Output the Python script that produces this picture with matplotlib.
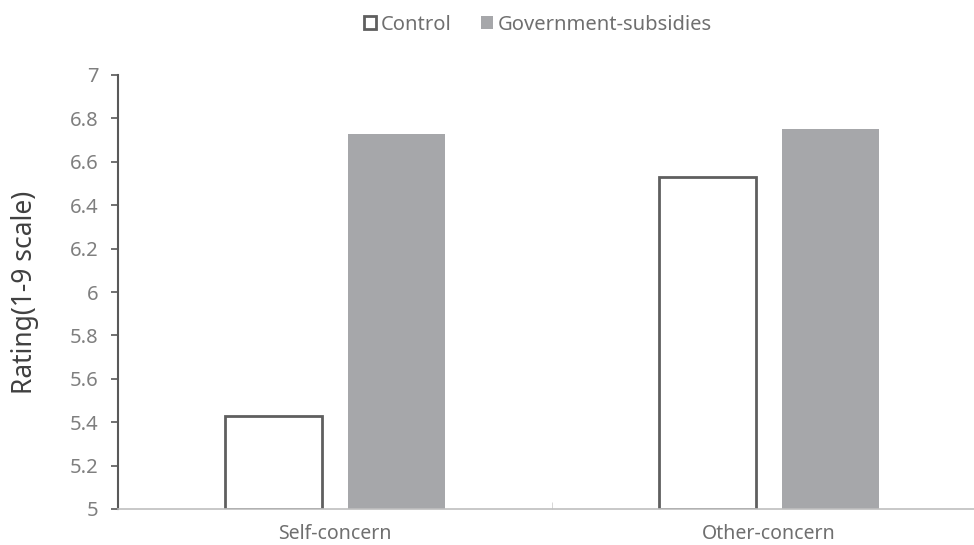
import matplotlib.pyplot as plt
import numpy as np

plt.rcParams['font.family'] = ['Noto Sans', 'Noto Sans CJK SC', 'DejaVu Sans']

categories = ["Self-concern", "Other-concern"]
series = ["Control", "Government-subsidies"]
control = [5.43, 6.53]
subsidies = [6.73, 6.75]
yticks = [5, 5.2, 5.4, 5.6, 5.8, 6, 6.2, 6.4, 6.6, 6.8, 7]
ytick_labels = ["5", "5.2", "5.4", "5.6", "5.8", "6", "6.2", "6.4", "6.6", "6.8", "7"]

fig = plt.figure(figsize=(9.74, 5.45), dpi=100)
ax = fig.add_axes([118 / 974, 36 / 545, 868 / 974, 434 / 545])

x = np.arange(len(categories))
width = 0.224
off = 0.141

ax.bar(x - off, [v - 5 for v in control], width, bottom=5, color="white",
       edgecolor="#5f5f5f", linewidth=2, label=series[0])
ax.bar(x + off, [v - 5 for v in subsidies], width, bottom=5, color="#a6a7aa",
       label=series[1])

ax.set_xlim(-0.5, 1.5)
ax.set_ylim(5, 7)
ax.set_yticks(yticks)
ax.set_yticklabels(ytick_labels)
ax.set_xticks(x)
ax.set_xticklabels(categories)
ax.set_xticks([0.5], minor=True)

for s in ["top", "right"]:
    ax.spines[s].set_visible(False)
ax.spines["left"].set_color("#595959")
ax.spines["left"].set_linewidth(1.5)
ax.spines["bottom"].set_color("#bfbfbf")
ax.spines["bottom"].set_linewidth(1.2)

ax.tick_params(axis="y", direction="out", length=5, width=1.2, color="#595959",
               labelsize=14.5, labelcolor="#7f7f7f", pad=9)
ax.tick_params(axis="x", which="major", length=0, labelsize=14,
               labelcolor="#6f6f6f", pad=11)
ax.tick_params(axis="x", which="minor", direction="in", length=5, color="#d0d0d0")

ax.set_ylabel("Rating(1-9 scale)", fontsize=19, color="#404040", labelpad=22)

ax.legend(loc="upper center", bbox_to_anchor=(538 / 974, 1.006), bbox_transform=fig.transFigure,
          ncol=2, frameon=False, fontsize=14.5, handlelength=0.6, handleheight=0.6,
          handletextpad=0.2, columnspacing=1.5, labelcolor="#6f6f6f")

plt.savefig("out.png", dpi=100)
